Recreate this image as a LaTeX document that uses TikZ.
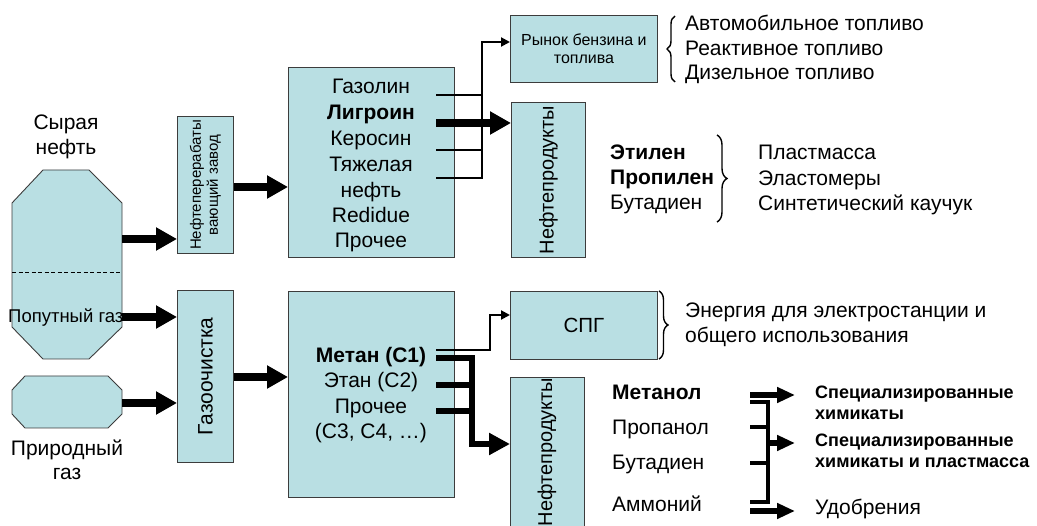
\documentclass[tikz,border=0pt]{standalone}
\usepackage{fontspec}
\setmainfont{Liberation Sans}
\usetikzlibrary{arrows.meta,decorations.pathreplacing}

\definecolor{boxfill}{RGB}{185,223,227}
\definecolor{boxline}{RGB}{60,60,60}

\begin{document}
\begin{tikzpicture}[x=1pt,y=-1pt,
  box/.style={draw=boxline,fill=boxfill,line width=0.9pt,inner sep=0pt,anchor=north west},
  ghost/.style={inner sep=0pt,anchor=north west},
  lbl/.style={inner sep=0pt,font=\fontsize{21}{24}\selectfont},
  small/.style={inner sep=0pt,font=\fontsize{16}{18}\selectfont},
  thinline/.style={line width=2pt},
  thinarrow/.style={line width=2pt,-{Triangle[length=9pt,width=9pt]}},
  bigarrow/.style={line width=8pt,-{Triangle[length=21pt,width=22pt]}},
  fatline/.style={line width=6.5pt},
  fatarrow/.style={line width=6.5pt,-{Triangle[length=21pt,width=21pt]}},
  medarrow/.style={line width=6pt,-{Triangle[length=18pt,width=15pt]}},
  bar/.style={line width=4.5pt},
  curly/.style={decorate,decoration={brace,amplitude=#1},line width=1.4pt},
  curly/.default=8pt,
]
\useasboundingbox (0,0) rectangle (1037,526);

% ---------- sources ----------
\filldraw[draw=boxline,fill=boxfill,line width=0.9pt]
  (43,170) -- (89,170) -- (122,203) -- (122,327) -- (89,359) -- (43,359) -- (12,327) -- (12,203) -- cycle;
\node[ghost,minimum width=110pt,minimum height=189pt] (crude) at (12,170) {};
\draw[line width=1pt,dash pattern=on 4pt off 2.5pt] (crude.west |- 0,273) -- (crude.east |- 0,273);
\node[lbl,anchor=base] (crudeA) at (66,130) {Сырая};
\node[lbl,anchor=base] (crudeB) at (66,155) {нефть};
\node[lbl,font=\fontsize{18.5}{22}\selectfont,anchor=base west] (assoc) at (8,323) {Попутный газ};

\filldraw[draw=boxline,fill=boxfill,line width=0.9pt]
  (25,376) -- (108,376) -- (122,390) -- (122,414) -- (108,428) -- (25,428) -- (12,414) -- (12,390) -- cycle;
\node[ghost,minimum width=110pt,minimum height=52pt] (natgas) at (12,376) {};
\node[lbl,anchor=base] (natA) at (67,456) {Природный};
\node[lbl,anchor=base] (natB) at (67,480) {газ};

% ---------- processing ----------
\node[box,minimum width=56pt,minimum height=137pt] (refinery) at (177,116) {};
\node[small,font=\fontsize{15}{17}\selectfont,rotate=90,align=center] (refTxt) at (refinery.center) {Нефтеперерабаты\\вающий завод};

\node[box,minimum width=56pt,minimum height=172pt] (cleaner) at (177,290) {};
\node[lbl,rotate=90] (cleanTxt) at (cleaner.center) {Газоочистка};

\draw[bigarrow] (crude.east |- 0,239) -- (refinery.west |- 0,239);
\draw[bigarrow] (crude.east |- 0,317) -- (cleaner.west |- 0,317);
\draw[bigarrow] (natgas.east |- 0,403) -- (cleaner.west |- 0,403);

% ---------- fractions ----------
\node[box,minimum width=166pt,minimum height=190pt] (oil) at (288,67) {};
\foreach \t/\y [count=\i] in {Газолин/94, {\bfseries Лигроин}/120, Керосин/146,
    Тяжелая/172, нефть/198, Redidue/223, Прочее/248}
  \node[lbl,anchor=base] (oil\i) at (371,\y) {\t};

\node[box,minimum width=166pt,minimum height=206pt] (gas) at (288,291) {};
\foreach \t/\y [count=\i] in {{\bfseries Метан (С1)}/363, Этан (С2)/388, Прочее/414, {(С3, С4, …)}/439}
  \node[lbl,anchor=base] (gas\i) at (371,\y) {\t};

\draw[bigarrow] (refinery.east |- 0,187) -- (oil.west |- 0,187);
\draw[bigarrow] (cleaner.east |- 0,377) -- (gas.west |- 0,377);

% ---------- markets ----------
\node[box,minimum width=147pt,minimum height=67pt] (market) at (510,15) {};
\node[small,align=center] (marketTxt) at (market.center) {Рынок бензина и\\топлива};

\node[box,minimum width=74pt,minimum height=155pt] (prodA) at (511,102) {};
\node[lbl,font=\fontsize{20}{22}\selectfont,rotate=90] (prodAtxt) at (prodA.center) {Нефтепродукты};

\node[box,minimum width=147pt,minimum height=68pt] (lng) at (510,291) {};
\node[lbl,font=\fontsize{20.5}{22}\selectfont] (lngTxt) at (lng.center) {СПГ};

\node[box,minimum width=74pt,minimum height=160pt] (prodB) at (510,377) {};
\node[lbl,font=\fontsize{20}{22}\selectfont,rotate=90] (prodBtxt) at (547,452) {Нефтепродукты};

% ---------- oil connectors ----------
\coordinate (busT) at (482,42);
\coordinate (gasolineOut) at (436,95);
\coordinate (naphthaOut) at (436,123);
\coordinate (keroOut) at (436,150);
\coordinate (heavyOut) at (436,178);
\draw[thinline] (gasolineOut) -- ([xshift=1pt]gasolineOut -| busT);
\draw[thinline] (keroOut) -- ([xshift=1pt]keroOut -| busT);
\draw[thinarrow] (heavyOut) -| (busT) -- (market.west |- busT);
\draw[bigarrow] (naphthaOut) -- (naphthaOut -| prodA.west);

% ---------- gas connectors ----------
\coordinate (methThin) at (436,350);
\coordinate (busL) at (472,444);
\coordinate (methOut) at (436,358);
\coordinate (ethOut) at (436,385);
\coordinate (restOut) at (436,411);
\draw[thinarrow] (methThin) -- (490,350) |- (lng.west |- 0,315);
\draw[fatline] (ethOut) -- ([xshift=3pt]ethOut -| busL);
\draw[fatline] (restOut) -- ([xshift=3pt]restOut -| busL);
\draw[fatarrow] (methOut) -| (busL) -- (prodB.west |- busL);

% ---------- fuel list ----------
\draw[curly=8pt] (675,82) -- (675,16);
\node[lbl,anchor=base west] (fuel1) at (685,31) {Автомобильное топливо};
\node[lbl,anchor=base west] (fuel2) at (685,56) {Реактивное топливо};
\node[lbl,anchor=base west] (fuel3) at (685,80) {Дизельное топливо};

% ---------- olefins ----------
\node[lbl,anchor=base west] (ole1) at (610,160) {\bfseries Этилен};
\node[lbl,anchor=base west] (ole2) at (610,185) {\bfseries Пропилен};
\node[lbl,anchor=base west] (ole3) at (610,210) {Бутадиен};
\draw[curly=10pt] (717,135) -- (717,222);
\node[lbl,anchor=base west] (poly1) at (758,160) {Пластмасса};
\node[lbl,anchor=base west] (poly2) at (758,186) {Эластомеры};
\node[lbl,anchor=base west] (poly3) at (758,211) {Синтетический каучук};

% ---------- power ----------
\draw[curly=9pt] (659,291) -- (659,359);
\node[lbl,anchor=base west] (pow1) at (685,318) {Энергия для электростанции и};
\node[lbl,anchor=base west] (pow2) at (685,343) {общего использования};

% ---------- chemicals ----------
\node[lbl,anchor=base west] (chem1) at (612,400) {\bfseries Метанол};
\node[lbl,anchor=base west] (chem2) at (612,435) {Пропанол};
\node[lbl,anchor=base west] (chem3) at (612,470) {Бутадиен};
\node[lbl,anchor=base west] (chem4) at (612,512) {Аммоний};

\tikzset{usebold/.style={lbl,font=\fontsize{18}{21}\selectfont\bfseries,anchor=base west}}
\node[usebold] (use1) at (815,399) {Специализированные};
\node[usebold] (use1b) at (815,420) {химикаты};
\node[usebold] (use2) at (815,447) {Специализированные};
\node[usebold] (use2b) at (815,468) {химикаты и пластмасса};
\node[lbl,anchor=base west] (use3) at (815,515) {Удобрения};

\coordinate (brTop) at (750,402);
\coordinate (brSpine) at (768,443);
\coordinate (brBot) at (750,502);
\coordinate (tip) at (795,0);
\draw[medarrow] (750,395) -- (tip |- 0,395);
\draw[bar] (brTop) -| (brSpine) |- (brBot);
\draw[bar] (750,427) -- (brSpine |- 0,427);
\draw[bar] (750,463) -- (brSpine |- 0,463);
\draw[medarrow] (brSpine) -- (tip |- brSpine);
\draw[medarrow] (750,511) -- (tip |- 0,511);
\end{tikzpicture}
\end{document}
